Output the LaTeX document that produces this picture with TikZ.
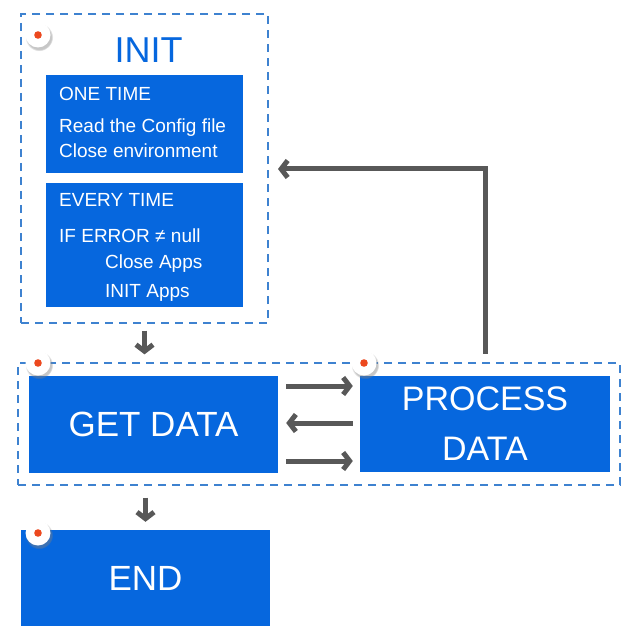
\documentclass[tikz,border=0pt]{standalone}
\usepackage{fontspec}
\setmainfont{Liberation Sans}
\usetikzlibrary{arrows.meta,shadows,calc}
\definecolor{boxblue}{RGB}{6,103,222}
\definecolor{dashblue}{RGB}{62,130,208}
\definecolor{arrgray}{RGB}{88,88,88}
\definecolor{dotred}{RGB}{236,72,30}
\begin{document}
\begin{tikzpicture}[x=1pt,y=-1pt,
  bluebox/.style={fill=boxblue, draw=none, inner sep=0pt, text=white},
  dashbox/.style={draw=dashblue, line width=1.3pt, dash pattern=on 8pt off 6pt, inner sep=0pt},
  arr/.style={draw=arrgray, line width=5pt, -{Straight Barb[length=6.5pt,width=17pt]}},
  small/.style={text=white, font=\fontsize{19}{23}\selectfont, inner sep=0pt, anchor=base west},
  big/.style={font=\fontsize{35}{50}\selectfont, align=center, text=white},
  marker/.style={circle, fill=white, minimum size=25pt, inner sep=0pt,
    circular drop shadow={shadow xshift=1pt, shadow yshift=-2pt, shadow scale=1.12, opacity=0.45},
    path picture={\fill[dotred] (path picture bounding box.center) circle (3.8pt);}}
]
\useasboundingbox (0,0) rectangle (630,644);

% group frames
\node[dashbox, minimum width=247pt, minimum height=309pt] (init) at (144.5,168.5) {};
\node[dashbox, minimum width=602pt, minimum height=122pt] (grp) at (319,424) {};

% INIT title
\node[text=boxblue, font=\fontsize{36}{40}\selectfont, inner sep=0pt, anchor=base] (inittitle) at (148.5,63) {INIT};

% init boxes
\node[bluebox, minimum width=197pt, minimum height=98pt] (onetime) at (144.5,124) {};
\node[bluebox, minimum width=197pt, minimum height=124pt] (everytime) at (144.5,245) {};

\node[small] (t1) at (59,101) {ONE TIME};
\node[small] (t2) at (59,133) {Read the Config file};
\node[small] (t3) at (59,158) {Close environment};
\node[small] (t4) at (59,207) {EVERY TIME};
\node[small] (t5) at (59,242) {IF ERROR ≠ null};
\node[small] (t6) at (105,268) {Close Apps};
\node[small] (t7) at (105,297) {INIT Apps};

% main boxes
\node[bluebox, big, minimum width=249pt, minimum height=97pt] (getdata) at (153.5,424.5) {GET DATA};
\node[bluebox, big, font=\fontsize{34}{50}\selectfont, minimum width=250pt, minimum height=96pt] (process) at (485,424) {PROCESS\\DATA};
\node[bluebox, big, minimum width=249pt, minimum height=96pt] (endbox) at (145.5,578) {END};

% connectors
\coordinate (fb) at (278,169);
\draw[arr, shorten <=22pt] (process.north) |- (fb);
\draw[arr, shorten <=7pt, shorten >=8pt] (init.south) -- (init.south |- grp.north);
\draw[arr, shorten <=12pt, shorten >=8pt] (endbox.north |- grp.south) -- (endbox.north);
\draw[arr, shorten <=8pt, shorten >=7pt] ([yshift=38.5pt]getdata.east) -- ([yshift=38.5pt]getdata.east -| process.west);
\draw[arr, shorten <=7pt, shorten >=8pt] ([yshift=1.5pt]getdata.east -| process.west) -- ([yshift=1.5pt]getdata.east);
\draw[arr, shorten <=8pt, shorten >=7pt] ([yshift=-36.5pt]getdata.east) -- ([yshift=-36.5pt]getdata.east -| process.west);

% markers
\node[marker] (m1) at (38,35) {};
\node[marker] (m2) at (38,363) {};
\node[marker] (m3) at (364,363) {};
\node[marker] (m4) at (38,533) {};
\end{tikzpicture}
\end{document}
